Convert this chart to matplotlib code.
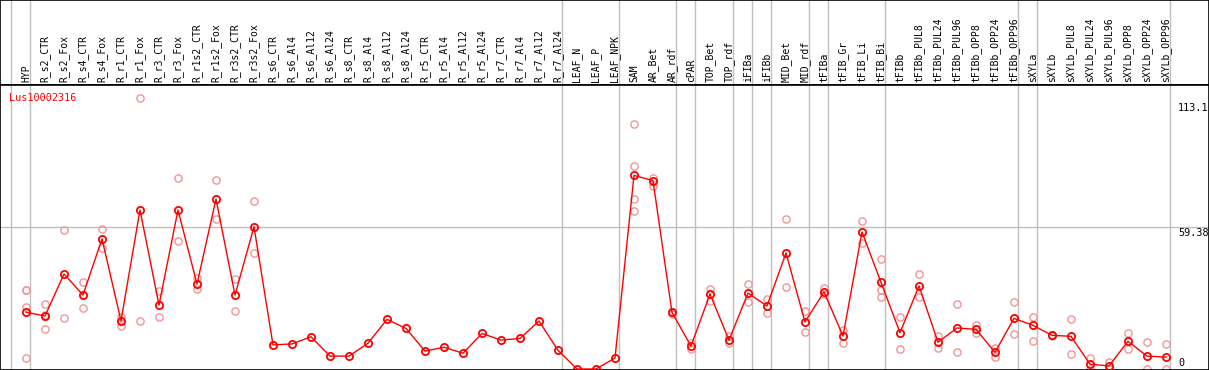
import matplotlib
matplotlib.use("Agg")
import matplotlib.pyplot as plt
import matplotlib.transforms as mtransforms

categories = ["HYP", "R_s2_CTR", "R_s2_Fox", "R_s4_CTR", "R_s4_Fox", "R_r1_CTR", "R_r1_Fox",
              "R_r3_CTR", "R_r3_Fox", "R_r1s2_CTR", "R_r1s2_Fox", "R_r3s2_CTR", "R_r3s2_Fox",
              "R_s6_CTR", "R_s6_Al4", "R_s6_Al12", "R_s6_Al24", "R_s8_CTR", "R_s8_Al4",
              "R_s8_Al12", "R_s8_Al24", "R_r5_CTR", "R_r5_Al4", "R_r5_Al12", "R_r5_Al24",
              "R_r7_CTR", "R_r7_Al4", "R_r7_Al12", "R_r7_Al24", "LEAF_N", "LEAF_P", "LEAF_NPK",
              "SAM", "AR_Bet", "AR_rdf", "cPAR", "TOP_Bet", "TOP_rdf", "iFIBa", "iFIBb",
              "MID_Bet", "MID_rdf", "tFIBa", "tFIB_Gr", "tFIB_Li", "tFIB_Bi", "tFIBb",
              "tFIBb_PUL8", "tFIBb_PUL24", "tFIBb_PUL96", "tFIBb_OPP8", "tFIBb_OPP24",
              "tFIBb_OPP96", "sXYLa", "sXYLb", "sXYLb_PUL8", "sXYLb_PUL24", "sXYLb_PUL96",
              "sXYLb_OPP8", "sXYLb_OPP24", "sXYLb_OPP96"]

mean_values = [23.8, 22.2, 39.8, 31.0, 54.5, 20.2, 66.6, 26.8, 66.6, 35.6, 71.2, 31.0, 59.6,
               10.1, 10.5, 13.5, 5.4, 5.4, 10.8, 20.8, 17.0, 7.5, 9.1, 6.6, 14.9,
               12.1, 12.8, 20.1, 7.8, 0.0, 0.0, 4.6,
               81.1, 78.9, 23.7, 9.6, 31.4, 12.1, 31.8, 26.4, 48.6, 19.7, 32.3, 13.8, 57.4,
               36.3, 15.2, 34.8, 11.2, 17.2, 16.6, 7.0, 21.2, 18.3, 14.1, 13.7, 2.0, 1.3,
               11.6, 5.4, 5.0]

replicates = {
    "HYP": [33.1, 32.9, 26.1, 4.5],
    "R_s2_CTR": [27.2, 16.8, 22.5],
    "R_s2_Fox": [58.2, 21.2],
    "R_s4_CTR": [36.3, 25.4],
    "R_s4_Fox": [58.6, 50.5],
    "R_r1_CTR": [21.9, 18.1],
    "R_r1_Fox": [113.4, 20.1],
    "R_r3_CTR": [32.7, 21.6],
    "R_r3_Fox": [79.9, 53.6],
    "R_r1s2_CTR": [38.0, 33.4],
    "R_r1s2_Fox": [79.2, 62.7],
    "R_r3s2_CTR": [37.7, 24.3],
    "R_r3s2_Fox": [70.4, 48.7],
    "SAM": [102.6, 85.0, 71.1, 66.1],
    "AR_Bet": [80.2, 76.8],
    "AR_rdf": [23.0, 23.9],
    "cPAR": [8.2, 10.8],
    "TOP_Bet": [33.5, 28.6],
    "TOP_rdf": [13.8, 10.8],
    "iFIBa": [35.6, 27.9],
    "iFIBb": [29.2, 23.3],
    "MID_Bet": [62.7, 34.2],
    "MID_rdf": [24.3, 15.4],
    "tFIBa": [34.1, 31.4],
    "tFIB_Gr": [16.3, 10.8],
    "tFIB_Li": [62.0, 52.7],
    "tFIB_Bi": [45.9, 33.1, 30.0],
    "tFIBb": [21.6, 8.4],
    "tFIBb_PUL8": [39.6, 30.3],
    "tFIBb_PUL24": [14.0, 8.7],
    "tFIBb_PUL96": [27.1, 7.0],
    "tFIBb_OPP8": [18.4, 14.9],
    "tFIBb_OPP24": [8.9, 4.9],
    "tFIBb_OPP96": [27.9, 14.5],
    "sXYLa": [21.6, 11.6],
    "sXYLb": [13.8, 14.3],
    "sXYLb_PUL8": [20.9, 6.2],
    "sXYLb_PUL24": [4.7, 0.0],
    "sXYLb_PUL96": [3.1, 0.0],
    "sXYLb_OPP8": [15.1, 8.5],
    "sXYLb_OPP24": [11.2, 0.0],
    "sXYLb_OPP96": [10.3, 0.0],
}

group_breaks = [-1, 0, 28, 31, 34, 35, 37, 38, 39, 41, 42, 45, 52, 53, 60]
y_tick_values = [113.1, 59.38, 0]
y_tick_labels = ["113.1", "59.38", "0"]
gene_name = "Lus10002316"

W, H = 1209, 370
DPI = 100
fig = plt.figure(figsize=(W / DPI, H / DPI), dpi=DPI)

top_px = 85
x0_px, step_px = 26, 19
xlim = ((0 - x0_px) / step_px, (W - x0_px) / step_px)
px_per_unit = 2.387
zero_px = 369
ylim = (-(H - zero_px) / px_per_unit, (zero_px - top_px) / px_per_unit)

mono = "DejaVu Sans Mono"
RED = "#ff0000"
PINK = "#f09696"
GRID = "#c0c0c0"

# Label strip
axl = fig.add_axes([0, 1 - top_px / H, 1, top_px / H])
axl.set_xlim(*xlim)
axl.set_ylim(top_px, 0)
axl.set_xticks([]); axl.set_yticks([])
for s in axl.spines.values():
    s.set_color("black"); s.set_linewidth(1.2)
for i, c in enumerate(categories):
    axl.text(i, 82, c, rotation=90, ha="center", va="bottom", fontsize=7,
             family=mono, color="black")
for b in group_breaks:
    axl.axvline(b + 0.21, color=GRID, lw=1, zorder=0)

# Plot area
ax = fig.add_axes([0, 0, 1, 1 - top_px / H])
ax.set_xlim(*xlim)
ax.set_ylim(*ylim)
ax.set_xticks([]); ax.set_yticks([])
for s in ax.spines.values():
    s.set_color("black"); s.set_linewidth(1.2)
for b in group_breaks:
    ax.axvline(b + 0.21, color=GRID, lw=1, zorder=0)
ax.axhline(59.38, color=GRID, lw=1, zorder=0)

for i, c in enumerate(categories):
    reps = replicates.get(c, [])
    if reps:
        ax.plot([i] * len(reps), reps, linestyle="none", marker="o", markersize=5.2,
                markerfacecolor="none", markeredgecolor=PINK, markeredgewidth=1.0,
                zorder=2)

ax.plot(range(len(categories)), mean_values, color=RED, lw=1, marker="o",
        markersize=5.2, markerfacecolor="none", markeredgecolor=RED,
        markeredgewidth=1.3, zorder=3)

title_tr = mtransforms.offset_copy(ax.transAxes, fig=fig, x=9, y=-8, units="dots")
ax.text(0, 1, gene_name, transform=title_tr, color=RED, fontsize=7.3, family=mono,
        ha="left", va="top")

lab_x = (1178 - x0_px) / step_px
label_offsets = {"113.1": -4, "59.38": -1, "0": 1}
for v, t in zip(y_tick_values, y_tick_labels):
    off = mtransforms.offset_copy(ax.transData, fig=fig, x=0, y=label_offsets[t], units="dots")
    ax.text(lab_x, v, t, transform=off, fontsize=7.3, family=mono,
            ha="left", va=("bottom" if v == 0 else "top"), color="black")

fig.savefig("out.png", dpi=DPI)
